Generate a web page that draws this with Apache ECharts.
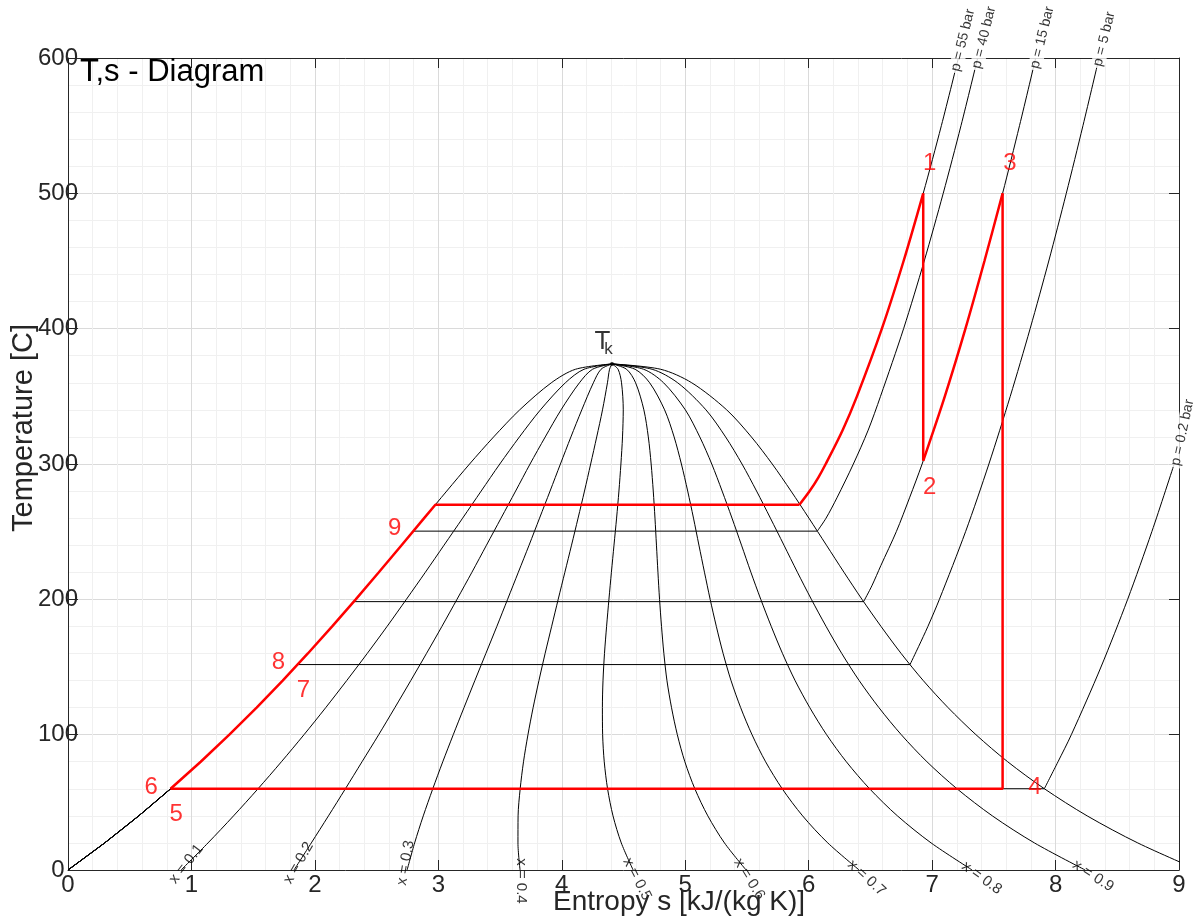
<!DOCTYPE html>
<html>
<head>
<meta charset="utf-8">
<title>T,s - Diagram</title>
<script src="https://cdn.jsdelivr.net/npm/echarts@6/dist/echarts.min.js"></script>
<style>
  html, body { margin: 0; padding: 0; background: #fff; }
  #chart { width: 1197px; height: 920px; }
</style>
</head>
<body>
<div id="chart"></div>
<script>
// ---- data (T in C, s in kJ/(kg K)) ----
var tSat = [0, 20, 40, 60, 80, 100, 120, 140, 160, 180, 200, 220, 240, 260, 280, 300, 320, 340, 360, 370, 373.95];
var sLiq = [0.000, 0.297, 0.573, 0.831, 1.075, 1.307, 1.528, 1.739, 1.943, 2.140, 2.331, 2.518, 2.702, 2.885, 3.068, 3.253, 3.448, 3.659, 3.915, 4.111, 4.407];
var sVap = [9.155, 8.666, 8.256, 7.910, 7.612, 7.355, 7.129, 6.928, 6.749, 6.586, 6.432, 6.286, 6.144, 6.002, 5.857, 5.705, 5.536, 5.336, 5.053, 4.801, 4.407];

// lines of constant quality, same temperatures as tSat
var sX01 = [0.916, 1.134, 1.341, 1.539, 1.729, 1.912, 2.088, 2.258, 2.424, 2.585, 2.741, 2.895, 3.046, 3.197, 3.347, 3.498, 3.657, 3.827, 4.029, 4.180, 4.407];
var sX02 = [1.831, 1.971, 2.110, 2.247, 2.382, 2.517, 2.648, 2.777, 2.904, 3.029, 3.151, 3.272, 3.390, 3.508, 3.626, 3.743, 3.866, 3.994, 4.143, 4.249, 4.407];
var sX03 = [2.747, 2.808, 2.878, 2.955, 3.036, 3.121, 3.208, 3.296, 3.385, 3.474, 3.561, 3.648, 3.735, 3.820, 3.905, 3.989, 4.074, 4.162, 4.256, 4.318, 4.407];
var sX04 = [3.662, 3.645, 3.646, 3.663, 3.690, 3.726, 3.768, 3.815, 3.865, 3.918, 3.971, 4.025, 4.079, 4.132, 4.184, 4.234, 4.283, 4.330, 4.370, 4.387, 4.407];
var sX05 = [4.578, 4.482, 4.415, 4.371, 4.344, 4.331, 4.329, 4.334, 4.346, 4.363, 4.382, 4.402, 4.423, 4.444, 4.463, 4.479, 4.492, 4.498, 4.484, 4.456, 4.407];
var sX06 = [5.493, 5.318, 5.183, 5.078, 4.997, 4.936, 4.889, 4.852, 4.827, 4.808, 4.792, 4.779, 4.767, 4.755, 4.741, 4.724, 4.701, 4.665, 4.598, 4.525, 4.407];
var sX07 = [6.409, 6.155, 5.951, 5.786, 5.651, 5.541, 5.449, 5.371, 5.307, 5.252, 5.202, 5.156, 5.111, 5.067, 5.020, 4.969, 4.910, 4.833, 4.712, 4.594, 4.407];
var sX08 = [7.324, 6.992, 6.719, 6.494, 6.305, 6.145, 6.009, 5.890, 5.788, 5.697, 5.612, 5.532, 5.456, 5.379, 5.299, 5.215, 5.118, 5.001, 4.825, 4.663, 4.407];
var sX09 = [8.240, 7.829, 7.488, 7.202, 6.958, 6.750, 6.569, 6.409, 6.268, 6.141, 6.022, 5.909, 5.800, 5.690, 5.578, 5.460, 5.327, 5.168, 4.939, 4.732, 4.407];
var qualityLabels = ['x = 0.1', 'x = 0.2', 'x = 0.3', 'x = 0.4', 'x = 0.5', 'x = 0.6', 'x = 0.7', 'x = 0.8', 'x = 0.9'];

// isobars: first two points are the boiling line ends, rest superheated
var sP55 = [2.976, 5.925, 6.008, 6.078, 6.138, 6.275, 6.391, 6.593, 6.769, 6.928, 7.075, 7.213];
var tP55 = [269.9, 269.9, 280, 290, 300, 325, 350, 400, 450, 500, 550, 600];
var sP40 = [2.797, 6.070, 6.141, 6.229, 6.362, 6.482, 6.582, 6.769, 6.936, 7.090, 7.234, 7.369];
var tP40 = [250.4, 250.4, 260, 275, 300, 325, 350, 400, 450, 500, 550, 600];
var sP15 = [2.315, 6.445, 6.512, 6.585, 6.710, 6.817, 6.919, 7.103, 7.270, 7.424, 7.571, 7.708, 7.839];
var tP15 = [198.3, 198.3, 210, 225, 250, 275, 300, 350, 400, 450, 500, 550, 600];
var sP5 = [1.861, 6.821, 6.890, 6.966, 7.059, 7.271, 7.460, 7.633, 7.794, 7.945, 8.087, 8.222, 8.352];
var tP5 = [151.8, 151.8, 165, 180, 200, 250, 300, 350, 400, 450, 500, 550, 600];
var sP02 = [0.832, 7.909, 8.020, 8.128, 8.368, 8.584, 8.780, 8.961];
var tP02 = [60.06, 60.06, 80, 100, 150, 200, 250, 300];
var isobarLabels = ['p = 55 bar', 'p = 40 bar', 'p = 15 bar', 'p = 5 bar', 'p = 0.2 bar'];

// cycle, in pieces
var sFeed = [0.831, 1.075, 1.307, 1.528, 1.739, 1.943, 2.140, 2.331, 2.518, 2.702, 2.885, 2.976, 5.925];
var tFeed = [60.06, 80, 100, 120, 140, 160, 180, 200, 220, 240, 260, 269.9, 269.9];
var sSuper = [5.925, 6.008, 6.078, 6.138, 6.275, 6.391, 6.593, 6.769, 6.928];
var tSuper = [269.9, 280, 290, 300, 325, 350, 400, 450, 500];
var sHP = [6.928, 6.928];
var tHP = [500, 302.4];
var sReheat = [6.928, 7.103, 7.270, 7.424, 7.571];
var tReheat = [302.4, 350, 400, 450, 500];
var sLP = [7.571, 7.571, 0.831];
var tLP = [500, 60.06, 60.06];
var stateNames = ['1', '2', '3', '4', '5', '6', '7', '8', '9'];

var critS = 4.407, critT = 373.95;

// ---- helpers ----
function zip(s, t) {
  var out = [];
  for (var i = 0; i < s.length; i++) out.push([s[i], t[i]]);
  return out;
}
// compressed-liquid part of an isobar lies on the boiling line
function liquidPart(tMax) {
  var out = [];
  for (var i = 0; i < tSat.length && tSat[i] < tMax; i++) out.push([sLiq[i], tSat[i]]);
  return out;
}

var font = '"Liberation Sans", Arial, Helvetica, sans-serif';
var ink = '#262626';
var series = [];

function blackLine(data, smooth, width) {
  series.push({
    type: 'line', data: data, smooth: smooth ? 0.3 : false, showSymbol: false, silent: true,
    lineStyle: { color: '#000', width: width || 1 }, z: 3
  });
}
function redLine(data, smooth) {
  series.push({
    type: 'line', data: data, smooth: smooth ? 0.3 : false, showSymbol: false, silent: true,
    lineStyle: { color: '#ff0000', width: 2.5 }, z: 5
  });
}

blackLine(zip(sLiq, tSat), true);
blackLine(zip(sVap, tSat), true);
[sX01, sX02, sX03, sX04, sX05, sX06, sX07, sX08, sX09].forEach(function (s) {
  blackLine(zip(s, tSat), true);
});
[[sP55, tP55], [sP40, tP40], [sP15, tP15], [sP5, tP5], [sP02, tP02]].forEach(function (p) {
  var s = p[0], t = p[1];
  blackLine(liquidPart(t[0]).concat(zip(s.slice(0, 2), t.slice(0, 2))), false);
  blackLine(zip(s.slice(1), t.slice(1)), true);
});

redLine(zip(sFeed, tFeed), false);
redLine(zip(sSuper, tSuper), true);
redLine(zip(sHP, tHP), false);
redLine(zip(sReheat, tReheat), true);
redLine(zip(sLP, tLP), false);

// ---- text placed in data coordinates ----
var qLabelPos = [[0.958, 4.4], [1.867, 5.2], [2.735, 5.2], [3.669, -8.1], [4.610, -6.7], [5.519, -6.7], [6.469, -5.9], [7.403, -5.9], [8.304, -4.4]];
var qLabelRot = [52, 60, 80, -90, -63, -58, -42, -36, -33];
var pLabelPos = [[7.183, 589], [7.354, 591], [7.825, 591], [8.336, 592.6], [8.969, 297.4]];
var pLabelRot = [76, 76, 76, 76, 78];
var stateLabelPos = [[6.981, 522.3], [6.981, 282.6], [7.630, 522.3], [7.832, 60.7], [0.877, 41.4], [0.674, 60.7], [1.907, 132.7], [1.705, 153.5], [2.646, 252.3]];

var textItems = [];
qualityLabels.forEach(function (txt, i) {
  textItems.push({
    value: qLabelPos[i],
    label: { formatter: txt, rotate: qLabelRot[i], fontSize: 15, color: '#000', align: 'center', verticalAlign: 'middle' }
  });
});
isobarLabels.forEach(function (txt, i) {
  textItems.push({
    value: pLabelPos[i],
    label: { formatter: txt, rotate: pLabelRot[i], fontSize: 14, color: '#000', align: 'left', verticalAlign: 'middle',
             backgroundColor: '#fff', padding: [0, 2] }
  });
});
stateNames.forEach(function (txt, i) {
  textItems.push({
    value: stateLabelPos[i],
    label: { formatter: txt, fontSize: 24, color: '#ff0000', align: 'center', verticalAlign: 'middle' }
  });
});
textItems.push({ value: [4.330, 390.6], label: { formatter: 'T', fontSize: 26, color: '#000', align: 'center', verticalAlign: 'middle' } });
textItems.push({ value: [4.378, 384.8], label: { formatter: 'k', fontSize: 17, color: '#000', align: 'center', verticalAlign: 'middle' } });

series.push({
  type: 'scatter', data: textItems, symbolSize: 1, clip: false, silent: true, z: 8,
  itemStyle: { color: 'rgba(0,0,0,0)' },
  label: { show: true, position: 'inside', fontFamily: font, textBorderWidth: 0 }
});
series.push({
  type: 'scatter', data: [[critS, critT]], symbolSize: 4, silent: true, z: 6,
  itemStyle: { color: '#000' }
});

var chartDom = document.getElementById('chart');
var myChart = echarts.init(chartDom, null, { renderer: 'canvas' });
var option;

function boxAxis(min, max, interval, pos, labels) {
  return {
    type: 'value', min: min, max: max, interval: interval, position: pos,
    axisLine: { show: true, onZero: false, lineStyle: { color: ink, width: 1 } },
    axisTick: { show: true, inside: true, length: 10, lineStyle: { color: ink } },
    axisLabel: labels ? labels : { show: false },
    splitLine: labels ? { show: true, lineStyle: { color: '#dadada', width: 1 } } : { show: false },
    minorTick: { show: false, splitNumber: 5 },
    minorSplitLine: labels ? { show: true, lineStyle: { color: '#f0f0f0', width: 1 } } : { show: false }
  };
}

option = {
  animation: false,
  backgroundColor: '#fff',
  grid: { left: 68, right: 18, top: 58, bottom: 50, containLabel: false },
  xAxis: [
    boxAxis(0, 9, 1, 'bottom', { fontSize: 24, color: ink, margin: 3, fontFamily: font }),
    boxAxis(0, 9, 1, 'top', null)
  ],
  yAxis: [
    boxAxis(0, 600, 100, 'left', { fontSize: 24, color: ink, margin: 10, align: 'center', fontFamily: font }),
    boxAxis(0, 600, 100, 'right', null)
  ],
  graphic: [
    { type: 'text', left: 80, top: 57, z: 10,
      style: { text: 'T,s - Diagram', font: '31px ' + font, fill: '#000' } },
    { type: 'text', x: 679, y: 902, z: 10,
      style: { text: 'Entropy s [kJ/(kg K)]', font: '28px ' + font, fill: ink, align: 'center', verticalAlign: 'middle' } },
    { type: 'text', x: 24, y: 428, rotation: Math.PI / 2, z: 10,
      style: { text: 'Temperature [C]', font: '29px ' + font, fill: ink, align: 'center', verticalAlign: 'middle' } }
  ],
  series: series
};

option && myChart.setOption(option);
</script>
</body>
</html>
